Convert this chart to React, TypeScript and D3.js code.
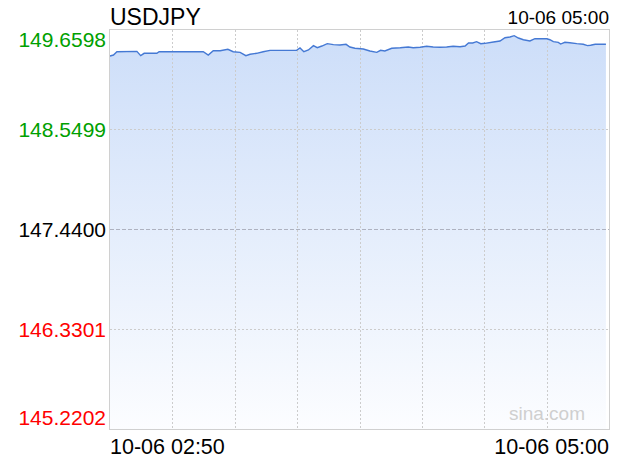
import React from "react";
import * as d3 from "d3";

// ---- data (minutes since 10-06 02:50, price) ----
const minutes: number[] = [
  0, 0.9, 1.8, 7.0, 8.0, 8.9, 12.2, 12.8, 24.3, 25.6, 26.9, 28.7, 30.7, 32.1, 33.9,
  35.4, 36.5, 38.2, 39.9, 41.7, 48.6, 49.5, 50.5, 51.7, 53.0, 54.0, 55.2, 56.6, 58.2,
  59.9, 61.5, 62.5, 63.8, 66.0, 67.7, 69.5, 70.5, 71.6, 73.4, 75.6, 77.7, 79.0, 80.8,
  82.5, 84.2, 86.0, 87.7, 89.4, 91.2, 92.5, 93.4, 94.5, 95.5, 96.6, 97.7, 99.9, 101.6,
  102.9, 104.2, 105.3, 106.4, 107.7, 109.4, 110.7, 113.8, 114.6, 115.5, 116.8, 117.4,
  118.5, 119.8, 121.6, 123.3, 124.4, 125.2, 126.4, 129.2,
];
const prices: number[] = [
  149.371, 149.382, 149.419, 149.423, 149.375, 149.401, 149.401, 149.419, 149.419, 149.382,
  149.430, 149.430, 149.446, 149.419, 149.412, 149.375, 149.390, 149.401, 149.419, 149.434,
  149.434, 149.460, 149.419, 149.438, 149.486, 149.463, 149.482, 149.508, 149.497, 149.493,
  149.501, 149.471, 149.457, 149.449, 149.427, 149.412, 149.434, 149.427, 149.457, 149.463,
  149.471, 149.463, 149.468, 149.479, 149.471, 149.468, 149.471, 149.479, 149.474, 149.482,
  149.516, 149.516, 149.530, 149.508, 149.512, 149.527, 149.538, 149.574, 149.582, 149.597,
  149.571, 149.552, 149.538, 149.563, 149.563, 149.552, 149.530, 149.523, 149.504, 149.523,
  149.519, 149.508, 149.501, 149.486, 149.490, 149.501, 149.501,
];
const yTicks: number[] = [149.6598, 148.5499, 147.44, 146.3301, 145.2202];
const yTickLabels: string[] = ["149.6598", "148.5499", "147.4400", "146.3301", "145.2202"];
const prevClose = 147.44;
const title = "USDJPY";
const topTime = "10-06 05:00";
const xStartLabel = "10-06 02:50";
const xEndLabel = "10-06 05:00";
const totalMinutes = 130;
const vGridCount = 8;

const W = 620;
const H = 460;
const left = 110;
const right = 609;
const top = 30;
const bottom = 430;
const FONT = "'Liberation Sans', Arial, Helvetica, sans-serif";

export default function App() {
  const x = d3.scaleLinear().domain([0, totalMinutes]).range([left, right]);
  const y = d3.scaleLinear().domain([yTicks[4], yTicks[0]]).range([bottom, top]);
  const data = minutes.map((m, i) => ({ m, p: prices[i] }));
  const line = d3
    .line<{ m: number; p: number }>()
    .x((d) => x(d.m))
    .y((d) => y(d.p));
  const area = d3
    .area<{ m: number; p: number }>()
    .x((d) => x(d.m))
    .y0(bottom)
    .y1((d) => y(d.p));

  const vGrid = d3.range(1, vGridCount).map((i) => left + ((right - left) * i) / vGridCount);

  const labelColor = (v: number) => (v > prevClose + 1e-9 ? "#00a000" : v < prevClose - 1e-9 ? "#ff0000" : "#000");

  return (
    <svg
      width={W}
      height={H}
      style={{ position: "absolute", left: 0, top: 0, background: "#fff" }}
      fontFamily={FONT}
    >
      <defs>
        <linearGradient id="fillGrad" x1="0" y1="0" x2="0" y2="1">
          <stop offset="0%" stopColor="#cddef9" />
          <stop offset="100%" stopColor="#fcfdff" />
        </linearGradient>
      </defs>
      <rect x={0} y={0} width={W} height={H} fill="#fff" />
      <path d={area(data) ?? ""} fill="url(#fillGrad)" />
      {vGrid.map((gx, i) => (
        <line
          key={"v" + i}
          x1={Math.round(gx) + 0.5}
          x2={Math.round(gx) + 0.5}
          y1={top}
          y2={bottom}
          stroke="#cccccc"
          strokeDasharray="2,2"
        />
      ))}
      {yTicks.slice(1, 4).map((t, i) => (
        <line
          key={"h" + i}
          x1={left}
          x2={right}
          y1={Math.round(y(t)) - 0.5}
          y2={Math.round(y(t)) - 0.5}
          stroke={t === prevClose ? "#aeb2c0" : "#cccccc"}
          strokeDasharray={t === prevClose ? "4,2" : "2,2"}
        />
      ))}
      <path d={line(data) ?? ""} fill="none" stroke="#4579d4" strokeWidth={1.4} />
      {/* frame */}
      <rect
        x={left - 0.5}
        y={top - 0.5}
        width={right - left + 1}
        height={bottom - top}
        fill="none"
        stroke="#d0d0d0"
      />
      {yTicks.map((t, i) => {
        const ty = y(t);
        const by = i === 0 ? ty + 17 : i === yTicks.length - 1 ? ty - 5 : ty + 6.5;
        return (
          <text key={"yl" + i} x={106} y={by} textAnchor="end" fontSize={21} fill={labelColor(t)}>
            {yTickLabels[i]}
          </text>
        );
      })}
      <text x={left} y={25} fontSize={23} fill="#000">
        {title}
      </text>
      <text x={right} y={24} fontSize={19} fill="#000" textAnchor="end">
        {topTime}
      </text>
      <text x={left} y={454} fontSize={21.5} fill="#000">
        {xStartLabel}
      </text>
      <text x={right} y={454} fontSize={21.5} fill="#000" textAnchor="end">
        {xEndLabel}
      </text>
      <text x={585} y={420} fontSize={19} fill="#cfcfcf" textAnchor="end">
        sina.com
      </text>
    </svg>
  );
}
